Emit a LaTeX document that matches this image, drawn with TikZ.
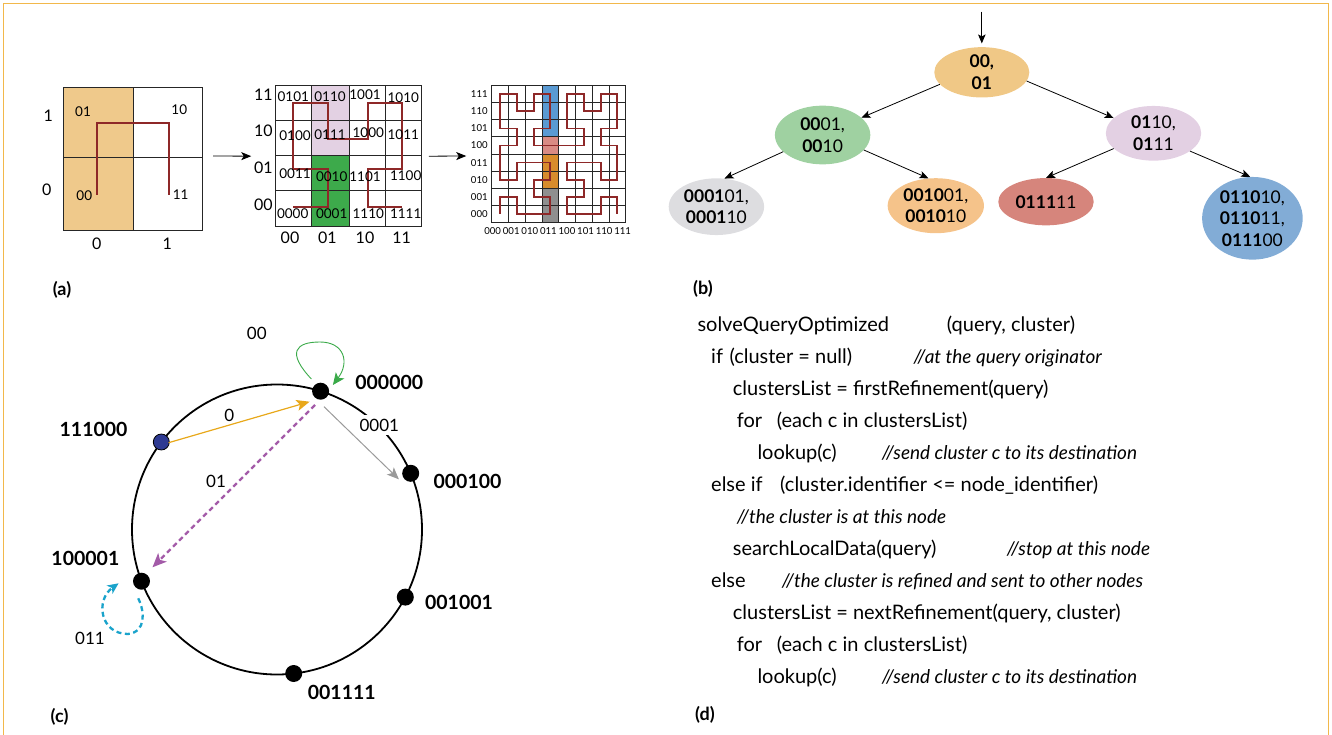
\documentclass[tikz,border=0pt]{standalone}
\usepackage{fontspec}
\setmainfont{Lato}
\usetikzlibrary{arrows.meta,shapes.geometric}

\definecolor{framec}{HTML}{F2B84B}
\definecolor{hilb}{HTML}{8E2828}
\definecolor{qorange}{HTML}{EFC98B}
\definecolor{qlilac}{HTML}{E3D1E3}
\definecolor{qgreen}{HTML}{3DAA4B}
\definecolor{qblue}{HTML}{5A9AD3}
\definecolor{qsalmon}{HTML}{D98B84}
\definecolor{qamber}{HTML}{D88C2C}
\definecolor{qgray}{HTML}{8F8F8F}
\definecolor{troot}{HTML}{F0C886}
\definecolor{tgreen}{HTML}{9FD1A1}
\definecolor{tlilac}{HTML}{E3D0E3}
\definecolor{tgray}{HTML}{DDDDE0}
\definecolor{tpeach}{HTML}{F5C38A}
\definecolor{tred}{HTML}{D6857C}
\definecolor{tblue}{HTML}{82ACD6}
\definecolor{rgreen}{HTML}{3AAA49}
\definecolor{ramber}{HTML}{E8A81A}
\definecolor{rpurple}{HTML}{A35BA8}
\definecolor{rgray}{HTML}{9A9A9A}
\definecolor{rcyan}{HTML}{1AA3CB}
\definecolor{rdot}{HTML}{2E3A92}

\tikzset{
  gridln/.style={draw=black!85, line width=0.9pt},
  hcurve/.style={draw=hilb, line width=1.8pt, line join=miter},
  blkarrow/.style={-{Stealth[length=10pt,width=8pt,inset=2.5pt]}, line width=0.8pt},
  celltxt/.style={inner sep=0pt, font=\fontsize{13.5}{14}\selectfont},
  axtxt/.style={inner sep=0pt, font=\fontsize{16}{17}\selectfont},
  smalltxt/.style={inner sep=0pt, font=\fontsize{9.6}{10}\selectfont},
  panel/.style={inner sep=0pt, font=\fontsize{18}{20}\selectfont\bfseries},
  tnode/.style={ellipse, inner sep=0pt},
  ttext/.style={inner sep=0pt, align=center, font=\fontsize{17.5}{21.5}\selectfont},
  tarrow/.style={-{Stealth[length=9pt,width=7.5pt,inset=2pt]}, line width=0.8pt},
  rdotst/.style={circle, fill=black, minimum size=17pt, inner sep=0pt},
  rlab/.style={inner sep=0pt, font=\fontsize{19.5}{20}\selectfont\bfseries},
  elab/.style={inner sep=0pt, font=\fontsize{17}{18}\selectfont},
  code/.style={inner sep=0pt, anchor=base west, font=\fontsize{20}{22}\selectfont},
  cmt/.style={inner sep=0pt, anchor=base west, font=\fontsize{19}{22}\selectfont\itshape},
}

\begin{document}
\begin{tikzpicture}[x=1pt,y=-1pt]
\useasboundingbox (0,0) rectangle (1332,735);

% outer frame, open at the bottom
\draw[framec, line width=1.4pt] (3.5,750) -- (3.5,3.5) -- (1328.5,3.5) -- (1328.5,750);

% ---------------- (a) level 1 grid ----------------
\fill[qorange] (63.3,87.3) rectangle (133.3,230.7);
\draw[gridln] (133.3,87.3) -- (133.3,230.7);
\draw[gridln] (63.3,157.3) -- (202.7,157.3);
\node[draw=black!85, line width=0.9pt, minimum width=139.4pt, minimum height=143.4pt, inner sep=0pt] (g1) at (133,159) {};
\draw[hcurve] (96.7,195) -- (96.7,123.3) -- (169.3,123.3) -- (169.3,195);
\node[celltxt] (g1c01) at (83,112) {01};
\node[celltxt] (g1c10) at (179.3,110) {10};
\node[celltxt] (g1c00) at (84.3,196) {00};
\node[celltxt] (g1c11) at (180.7,195) {11};
\node[axtxt] (g1r1) at (48.3,116) {1};
\node[axtxt] (g1r0) at (46.7,189.3) {0};
\node[axtxt] (g1k0) at (96.7,243.3) {0};
\node[axtxt] (g1k1) at (167.3,243.3) {1};

% ---------------- (a) level 2 grid ----------------
\fill[qlilac] (311.7,85.7) rectangle (349,155);
\fill[qgreen] (311.7,155) rectangle (349,226.7);
\foreach \xx in {311.7,349,385} \draw[gridln] (\xx,85.7) -- (\xx,226.7);
\foreach \yy in {120.7,155,190} \draw[gridln] (275.7,\yy) -- (421.7,\yy);
\node[draw=black!85, line width=0.9pt, minimum width=146pt, minimum height=141pt, inner sep=0pt] (g2) at (348.7,156.2) {};
\draw[hcurve] (293.3,207.3) -- (328.3,207.3) -- (328.3,169) -- (293.3,169) -- (293.3,103.3)
  -- (328.3,103.3) -- (328.3,139.3) -- (367.7,139.3) -- (367.7,103.3) -- (401.7,103.3)
  -- (401.7,169) -- (367.7,169) -- (367.7,207.3) -- (401.7,207.3);
\foreach \s/\xx/\yy [count=\k] in {
  0101/293.3/96.7, 0110/330/96.7, 1001/365/95, 1010/403.3/98,
  0100/295/135.7, 0111/330/135, 1000/368.3/133, 1011/403.3/135,
  0011/295/174, 0010/331.7/176.7, 1101/365/176.7, 1100/405.7/176,
  0000/292.7/213.3, 0001/331.7/213.3, 1110/368.3/213.3, 1111/405.7/213.3}
  \node[celltxt] (g2c\k) at (\xx,\yy) {\s};
\foreach \s/\yy [count=\k] in {11/95, 10/131, 01/167.7, 00/204.3}
  \node[axtxt] (g2r\k) at (263.3,\yy) {\s};
\foreach \s/\xx [count=\k] in {00/290, 01/327.3, 10/365, 11/401.7}
  \node[axtxt] (g2k\k) at (\xx,237.5) {\s};

% ---------------- (a) level 3 grid ----------------
\fill[qblue]   (541.95,85.7)  rectangle (558.7,136.9);
\fill[qsalmon] (541.95,136.9) rectangle (558.7,154.0);
\fill[qamber]  (541.95,154.0) rectangle (558.7,188.2);
\fill[qgray]   (541.95,188.2) rectangle (558.7,222.3);
\foreach \i in {1,...,7} {
  \draw[gridln] ({491.7+16.75*\i},85.7) -- ({491.7+16.75*\i},222.3);
  \draw[gridln] (491.7,{85.7+17.075*\i}) -- (625.7,{85.7+17.075*\i});
}
\node[draw=black!85, line width=0.9pt, minimum width=134pt, minimum height=136.6pt, inner sep=0pt] (g3) at (558.7,154) {};
\begin{scope}[shift={(500.1,213.8)}, x=16.75pt, y=17.075pt]
\draw[hcurve] (0,0)--(0,1)--(1,1)--(1,0)--(2,0)--(3,0)--(3,1)--(2,1)--(2,2)--(3,2)--(3,3)--(2,3)
  --(1,3)--(1,2)--(0,2)--(0,3)--(0,4)--(1,4)--(1,5)--(0,5)--(0,6)--(0,7)--(1,7)--(1,6)--(2,6)
  --(2,7)--(3,7)--(3,6)--(3,5)--(2,5)--(2,4)--(3,4)--(4,4)--(5,4)--(5,5)--(4,5)--(4,6)--(4,7)
  --(5,7)--(5,6)--(6,6)--(6,7)--(7,7)--(7,6)--(7,5)--(6,5)--(6,4)--(7,4)--(7,3)--(7,2)--(6,2)
  --(6,3)--(5,3)--(4,3)--(4,2)--(5,2)--(5,1)--(4,1)--(4,0)--(5,0)--(6,0)--(6,1)--(7,1)--(7,0);
\end{scope}
\foreach \s [count=\j from 0] in {000,001,010,011,100,101,110,111}
  \node[smalltxt] (g3r\j) at (479.3,{213.8-17.075*\j}) {\s};
\foreach \s [count=\i from 0] in {000,001,010,011,100,101,110,111}
  \node[smalltxt] (g3k\i) at ({492.7+18.57*\i},230.7) {\s};

% arrows between the grids
\draw[blkarrow] ([shift={(10,-3)}]g1.east) -- ([shift={(-24,0)}]g2.west);
\draw[blkarrow] ([shift={(6.6,0)}]g2.east) -- ([shift={(-25,2)}]g3.west);

\node[panel] (pa) at (62,290) {(a)};

% ---------------- (b) refinement tree ----------------
\node[tnode, fill=troot,  minimum width=95pt,   minimum height=50.3pt] (root)    at (981.8,72.3)  {};
\node[tnode, fill=tgreen, minimum width=95.4pt, minimum height=58.7pt] (n0001)   at (822.6,135)   {};
\node[tnode, fill=tlilac, minimum width=95.4pt, minimum height=54.7pt] (n0110)   at (1153.5,133.3) {};
\node[tnode, fill=tgray,  minimum width=95.4pt, minimum height=56.7pt] (n000101) at (716.4,206.7) {};
\node[tnode, fill=tpeach, minimum width=96.3pt, minimum height=55pt]   (n001001) at (935.8,205.7) {};
\node[tnode, fill=tred,   minimum width=95.4pt, minimum height=47.3pt] (n011111) at (1046,201.7)  {};
\node[tnode, fill=tblue,  minimum width=100.6pt,minimum height=82.7pt] (n011010) at (1252.4,218.3) {};

\node[ttext] (troottxt) at (root)    {\textbf{00,}\\\textbf{01}};
\node[ttext] (t0001txt) at (n0001)   {\textbf{00}01,\\\textbf{00}10};
\node[ttext] (t0110txt) at (n0110)   {\textbf{01}10,\\\textbf{01}11};
\node[ttext] (t000101txt) at (n000101) {\textbf{0001}01,\\\textbf{0001}10};
\node[ttext] (t001001txt) at (n001001) {\textbf{0010}01,\\\textbf{0010}10};
\node[ttext] (t011111txt) at (n011111) {\textbf{0111}11};
\node[ttext] (t011010txt) at (n011010) {\textbf{0110}10,\\\textbf{0110}11,\\\textbf{0111}00};

\coordinate (entry) at (981.8,11.7);
\draw[tarrow, shorten >=3.5pt] (entry) -- (root);
\draw[tarrow] (root.196.8) -- (n0001.24.3);
\draw[tarrow] (root.-11.6) -- (n0110.159.5);
\draw[tarrow] (n0001.203.4) -- (n000101.74.5);
\draw[tarrow] (n0001.-20) -- (n001001.105.4);
\draw[tarrow] (n0110.201.2) -- (n011111.90);
\draw[tarrow] (n0110.-26.8) -- (n011010.93.5);

\node[panel] (pb) at (703,289) {(b)};

% ---------------- (c) ring ----------------
\draw[line width=1.8pt] (277,529.5) circle[radius=145pt];
\node[rdotst] (r000000) at (320.6,391.2) {};
\node[rdotst, fill=rdot, draw=black, line width=0.8pt, minimum size=16pt] (r111000) at (161.3,442.0) {};
\node[rdotst] (r000100) at (410.7,473.3) {};
\node[rdotst] (r100001) at (141.5,581.2) {};
\node[rdotst] (r001001) at (405.3,597.1) {};
\node[rdotst] (r001111) at (293.7,673.5) {};

\node[rlab] (l000000) at (389.3,382.7) {000000};
\node[rlab] (l111000) at (93.6,429)    {111000};
\node[rlab] (l000100) at (467.5,481.7) {000100};
\node[rlab] (l100001) at (85.4,558.3)  {100001};
\node[rlab] (l001001) at (459,602.3)   {001001};
\node[rlab] (l001111) at (341.8,692.7) {001111};

\node[elab] (e00)   at (256.8,333.3) {00};
\node[elab] (e0)    at (229.3,415)   {0};
\node[elab, fill=white, inner sep=4pt] (e0001) at (379.3,425) {0001};
\node[elab] (e01)   at (216,481.7)   {01};
\node[elab] (e011)  at (90,638.3)    {011};

\draw[rgreen, line width=0.9pt, -{Stealth[length=12pt,width=10.5pt,inset=3pt]}]
  ([shift={(-9.2,-12.2)}]r000000.center) .. controls (286,352) and (296,342) .. (320,342)
  .. controls (344,342) and (350,362) .. ([shift={(12.3,-6.2)}]r000000.center);
\draw[ramber, line width=1.2pt, -{Stealth[length=13pt,width=11pt,inset=3pt]}]
  ([shift={(7.3,0.7)}]r111000.center) -- ([shift={(-11,10.5)}]r000000.center);
\draw[rpurple, line width=2.3pt, dash pattern=on 5pt off 3.5pt, -{Stealth[length=14pt,width=12pt,inset=3.5pt]}]
  ([shift={(-5.6,13.8)}]r000000.center) -- ([shift={(11,-13.9)}]r100001.center);
\draw[rgray, line width=1pt, -{Stealth[length=12pt,width=10pt,inset=3pt]}]
  ([shift={(3.4,15.5)}]r000000.center) -- ([shift={(-11.8,6)}]r000100.center);
\draw[rcyan, line width=2.3pt, dash pattern=on 5pt off 3.5pt, -{Stealth[length=11pt,width=10pt,inset=3pt]}]
  ([shift={(-3.3,17.1)}]r100001.center) .. controls (145,612) and (146,632) .. (128,634)
  .. controls (100,634) and (95,600) .. ([shift={(-22.9,2.1)}]r100001.center);

\node[panel] (pc) at (59.6,716.7) {(c)};

% ---------------- (d) query procedure ----------------
\node[code] (c1a)  at (697.3,331.5) {solveQueryOptimized};
\node[code] (c1b)  at (946.7,331.5) {(query, cluster)};
\node[code] (c2a)  at (711,363.5)   {if};
\node[code] (c2b)  at (729.3,363.5) {(cluster = null)};
\node[cmt]  (c2c)  at (913.3,363.5) {//at the query originator};
\node[code] (c3)   at (732.7,395.5) {clustersList = firstRefinement(query)};
\node[code] (c4a)  at (736.7,427.5) {for};
\node[code] (c4b)  at (776.7,427.5) {(each c in clustersList)};
\node[code] (c5a)  at (757.3,459.5) {lookup(c)};
\node[cmt]  (c5b)  at (881.7,459.5) {//send cluster c to its destination};
\node[code] (c6a)  at (711,491.5)   {else if};
\node[code] (c6b)  at (780,491.5)   {(cluster.identifier <= node\_identifier)};
\node[cmt]  (c7)   at (736.7,523.5) {//the cluster is at this node};
\node[code] (c8a)  at (732.7,555.5) {searchLocalData(query)};
\node[cmt]  (c8b)  at (1006.7,555.5) {//stop at this node};
\node[code] (c9a)  at (711,587.5)   {else};
\node[cmt]  (c9b)  at (781.7,587.5) {//the cluster is refined and sent to other nodes};
\node[code] (c10)  at (732.7,619.5) {clustersList = nextRefinement(query, cluster)};
\node[code] (c11a) at (736.7,651.5) {for};
\node[code] (c11b) at (776.7,651.5) {(each c in clustersList)};
\node[code] (c12a) at (757.3,683.5) {lookup(c)};
\node[cmt]  (c12b) at (881.7,683.5) {//send cluster c to its destination};

\node[panel] (pd) at (705,715) {(d)};
\end{tikzpicture}
\end{document}
